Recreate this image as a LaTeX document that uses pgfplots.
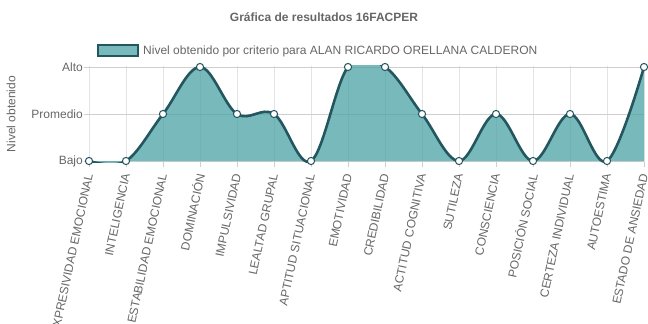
\documentclass[border=0pt]{standalone}
\usepackage{fontspec}
\setmainfont{Liberation Sans}
\usepackage{pgfplots}
\pgfplotsset{compat=1.18}

\definecolor{txt}{HTML}{666666}
\definecolor{lineteal}{HTML}{23565E}
\definecolor{fillteal}{HTML}{4BA2A6}
\definecolor{gridc}{HTML}{E3E3E3}
\definecolor{gridh}{HTML}{CFCFCF}

% level per criterion: 0 = Bajo, 1 = Promedio, 2 = Alto
\pgfplotstableread{
x level
0 0
1 0
2 1
3 2
4 1
5 1
6 0
7 2
8 2
9 1
10 0
11 1
12 0
13 1
14 0
15 2
}\niveles

\begin{document}
\begin{tikzpicture}[x=1pt,y=1pt]
\useasboundingbox (-89,-163) rectangle (559,161);
\begin{axis}[
  at={(0,-1.25pt)}, anchor=south west,
  scale only axis, width=555pt, height=96.5pt,
  xmin=0, xmax=15, ymin=-0.0266, ymax=2.0266,
  axis line style={draw=none},
  xtick={0,...,15},
  xticklabels={EXPRESIVIDAD EMOCIONAL,INTELIGENCIA,ESTABILIDAD EMOCIONAL,DOMINACIÓN,IMPULSIVIDAD,LEALTAD GRUPAL,APTITUD SITUACIONAL,EMOTIVIDAD,CREDIBILIDAD,ACTITUD COGNITIVA,SUTILEZA,CONSCIENCIA,POSICIÓN SOCIAL,CERTEZA INDIVIDUAL,AUTOESTIMA,ESTADO DE ANSIEDAD},
  ytick={0,1,2}, yticklabels={Bajo,Promedio,Alto},
  xtick pos=bottom, ytick pos=left,
  tick align=outside, major tick length=5pt,
  xmajorgrids, ymajorgrids,
  x grid style={gridc, line width=0.8pt},
  y grid style={gridh, line width=0.8pt},
  major tick style={gridh, line width=0.8pt},
  ticklabel style={text=txt, font=\fontsize{12}{14}\selectfont},
  % shifts first, so that they act before the rotation
  xticklabel style={xshift=0.5pt, yshift=-4.5pt, rotate=78, anchor=east, inner sep=2pt},
  yticklabel style={inner sep=1pt},
  ylabel={Nivel obtenido},
  ylabel style={at={(rel axis cs:-0.1405,0.5)}, anchor=center, text=txt, font=\fontsize{12}{14}\selectfont},
  title={Gráfica de resultados 16FACPER},
  title style={at={(rel axis cs:0.4234,1.445)}, anchor=center, text=txt, font=\bfseries\fontsize{12}{14}\selectfont},
  legend style={at={(rel axis cs:0.0144,1.155)}, anchor=west, draw=none, fill=none,
    inner sep=0pt, font=\fontsize{12}{14}\selectfont, text=txt,
    /tikz/every even column/.append style={column sep=0pt},
    nodes={inner xsep=4pt}},
  legend cell align=left,
  legend image code/.code={\draw[fill=fillteal, fill opacity=0.75, draw=lineteal, line width=2pt] (0pt,-5.5pt) rectangle (40pt,5.5pt);},
]
\addplot[smooth, tension=0.6, draw=none, fill=fillteal, fill opacity=0.75, forget plot]
  table[x=x, y=level] {\niveles} \closedcycle;
\addplot[smooth, tension=0.6, draw=lineteal, line width=2.6pt,
  mark=*, mark size=3.6pt, mark options={fill=white, draw=lineteal, line width=1pt}]
  table[x=x, y=level] {\niveles};
\addlegendentry{Nivel obtenido por criterio para ALAN RICARDO ORELLANA CALDERON}
\end{axis}
\end{tikzpicture}
\end{document}
